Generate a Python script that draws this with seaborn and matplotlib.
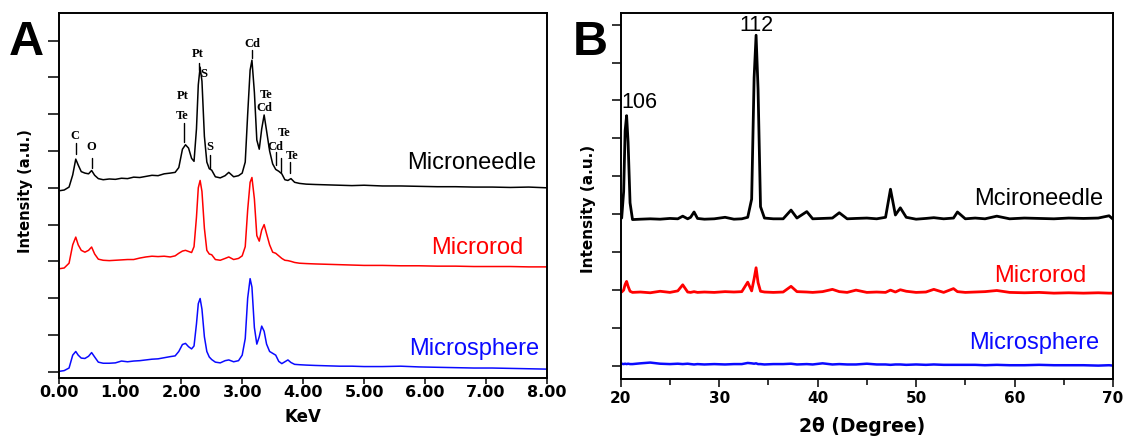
import matplotlib
matplotlib.use("Agg")
import matplotlib.pyplot as plt
from matplotlib.ticker import FormatStrFormatter, MultipleLocator
import pandas as pd
import seaborn as sns

# ---- panel A: EDS spectra (stacked, arbitrary units) ----
kev = [0.00, 0.08, 0.16, 0.22, 0.27, 0.31, 0.36, 0.42, 0.48, 0.53,
       0.58, 0.64, 0.72, 0.82, 0.92, 1.02, 1.12, 1.22, 1.32, 1.42,
       1.52, 1.62, 1.72, 1.82, 1.90, 1.96, 2.02, 2.07, 2.12, 2.17,
       2.21, 2.25, 2.28, 2.31, 2.34, 2.38, 2.42, 2.46, 2.50, 2.56,
       2.64, 2.72, 2.78, 2.86, 2.94, 3.00, 3.05, 3.09, 3.13, 3.16,
       3.20, 3.24, 3.28, 3.32, 3.36, 3.40, 3.45, 3.50, 3.55, 3.60,
       3.65, 3.70, 3.75, 3.80, 3.86, 3.94, 4.05, 4.20, 4.40, 4.60,
       4.80, 5.00, 5.30, 5.60, 5.90, 6.20, 6.50, 6.80, 7.10, 7.40,
       7.70, 8.00]

eds_microneedle = [4.92, 4.94, 5.02, 5.35, 5.78, 5.62, 5.44, 5.40, 5.38, 5.47,
                   5.34, 5.25, 5.22, 5.24, 5.23, 5.26, 5.25, 5.29, 5.28, 5.31,
                   5.34, 5.33, 5.38, 5.40, 5.42, 5.55, 6.05, 6.17, 6.08, 5.80,
                   5.72, 6.60, 7.80, 8.28, 7.90, 6.40, 5.70, 5.52, 5.48, 5.30,
                   5.27, 5.33, 5.42, 5.30, 5.33, 5.40, 5.70, 7.00, 8.20, 8.47,
                   7.60, 6.30, 6.05, 6.60, 6.98, 6.55, 6.00, 5.65, 5.50, 5.45,
                   5.38, 5.22, 5.20, 5.25, 5.15, 5.12, 5.10, 5.09, 5.08, 5.07,
                   5.06, 5.07, 5.05, 5.05, 5.04, 5.03, 5.03, 5.02, 5.02, 5.01,
                   5.02, 5.00]

eds_microrod = [2.80, 2.82, 2.95, 3.45, 3.66, 3.45, 3.30, 3.25, 3.30, 3.39,
                3.20, 3.06, 3.03, 3.02, 3.03, 3.04, 3.05, 3.05, 3.09, 3.12,
                3.14, 3.13, 3.14, 3.12, 3.15, 3.22, 3.28, 3.30, 3.27, 3.24,
                3.40, 4.20, 5.00, 5.20, 4.90, 3.90, 3.30, 3.20, 3.18, 3.05,
                3.03, 3.08, 3.12, 3.05, 3.08, 3.15, 3.40, 4.40, 5.15, 5.28,
                4.70, 3.70, 3.55, 3.85, 4.00, 3.75, 3.45, 3.25, 3.22, 3.15,
                3.08, 3.03, 3.02, 3.00, 2.97, 2.95, 2.94, 2.93, 2.92, 2.91,
                2.90, 2.89, 2.89, 2.88, 2.88, 2.87, 2.87, 2.86, 2.86, 2.86,
                2.85, 2.85]

eds_microsphere = [0.01, 0.03, 0.10, 0.45, 0.55, 0.45, 0.37, 0.36, 0.42, 0.52,
                   0.40, 0.26, 0.23, 0.23, 0.24, 0.29, 0.27, 0.29, 0.30, 0.32,
                   0.34, 0.35, 0.38, 0.41, 0.43, 0.55, 0.74, 0.77, 0.68, 0.62,
                   0.70, 1.30, 1.85, 1.99, 1.70, 0.95, 0.55, 0.40, 0.33, 0.26,
                   0.24, 0.30, 0.32, 0.27, 0.30, 0.45, 0.90, 2.00, 2.53, 2.30,
                   1.20, 0.75, 0.95, 1.24, 1.10, 0.75, 0.55, 0.50, 0.45, 0.28,
                   0.22, 0.27, 0.32, 0.25, 0.20, 0.19, 0.18, 0.17, 0.16, 0.15,
                   0.15, 0.14, 0.14, 0.15, 0.13, 0.12, 0.11, 0.10, 0.10, 0.09,
                   0.08, 0.07]

# ---- panel B: XRD patterns ----
two_theta = [20.1, 20.3, 20.45, 20.6, 20.75, 20.95, 21.2, 22.0, 23.0, 24.0,
             25.0, 25.8, 26.3, 26.8, 27.1, 27.45, 27.8, 28.5, 29.5, 30.6,
             31.5, 32.3, 32.9, 33.3, 33.55, 33.75, 33.95, 34.2, 34.6, 35.5,
             36.5, 37.3, 37.9, 38.9, 39.5, 40.5, 41.5, 42.2, 43.0, 43.9,
             45.0, 46.0, 46.9, 47.4, 47.9, 48.4, 49.0, 50.0, 51.0, 51.8,
             52.8, 53.8, 54.2, 55.0, 56.0, 57.0, 58.2, 59.5, 61.0, 62.5,
             64.0, 65.5, 67.0, 68.5, 69.6, 70.0]

xrd_microneedle = [3.90, 4.60, 6.20, 6.60, 5.90, 4.30, 3.86, 3.87, 3.88, 3.87,
                   3.89, 3.88, 3.95, 3.88, 3.92, 4.06, 3.89, 3.87, 3.88, 3.92,
                   3.87, 3.88, 3.92, 4.40, 7.60, 8.72, 7.30, 4.20, 3.90, 3.88,
                   3.88, 4.11, 3.90, 4.07, 3.88, 3.89, 3.90, 4.04, 3.88, 3.89,
                   3.90, 3.88, 3.92, 4.66, 3.98, 4.17, 3.92, 3.87, 3.89, 3.91,
                   3.88, 3.90, 4.06, 3.88, 3.90, 3.88, 3.95, 3.88, 3.90, 3.89,
                   3.88, 3.90, 3.89, 3.90, 3.96, 3.87]

xrd_microrod = [1.95, 2.00, 2.15, 2.23, 2.10, 1.97, 1.94, 1.95, 1.93, 1.97,
                1.94, 1.98, 2.14, 1.95, 1.94, 1.96, 1.94, 1.95, 1.94, 1.96,
                1.95, 1.96, 2.21, 1.98, 2.30, 2.59, 2.20, 1.97, 1.95, 1.94,
                1.95, 2.10, 1.96, 1.95, 1.94, 1.96, 2.02, 1.96, 1.94, 2.00,
                1.94, 1.95, 1.94, 2.00, 1.95, 2.01, 1.97, 1.94, 1.95, 2.02,
                1.94, 2.04, 1.96, 1.94, 1.95, 1.96, 1.99, 1.94, 1.93, 1.94,
                1.92, 1.93, 1.92, 1.93, 1.92, 1.92]

xrd_microsphere = [0.06, 0.05, 0.06, 0.05, 0.06, 0.05, 0.05, 0.07, 0.09, 0.06,
                   0.05, 0.06, 0.05, 0.06, 0.05, 0.04, 0.05, 0.04, 0.05, 0.04,
                   0.05, 0.05, 0.08, 0.07, 0.06, 0.07, 0.05, 0.05, 0.04, 0.05,
                   0.05, 0.06, 0.04, 0.05, 0.04, 0.07, 0.04, 0.05, 0.04, 0.04,
                   0.06, 0.04, 0.04, 0.03, 0.04, 0.04, 0.03, 0.04, 0.03, 0.04,
                   0.03, 0.03, 0.03, 0.03, 0.03, 0.02, 0.03, 0.02, 0.02, 0.03,
                   0.02, 0.02, 0.02, 0.01, 0.02, 0.01]

samples = ["Microneedle", "Microrod", "Microsphere"]
colors = ["black", "#ff0000", "#0a0aff"]

# element markers on the microneedle EDS trace
peak_labels = [("C", 0.25, 6.41), ("O", 0.53, 6.10), ("Te", 2.02, 6.95),
               ("Pt", 2.03, 7.50), ("Pt", 2.27, 8.63), ("S", 2.37, 8.09),
               ("S", 2.47, 6.10), ("Cd", 3.16, 8.92), ("Te", 3.39, 7.52),
               ("Cd", 3.37, 7.18), ("Te", 3.68, 6.50), ("Cd", 3.55, 6.11),
               ("Te", 3.82, 5.86)]
peak_ticks = [(0.27, 5.93, 6.21), (0.53, 5.53, 5.80), (2.04, 6.25, 6.75),
              (2.29, 8.20, 8.40), (2.47, 5.53, 5.89), (3.16, 8.54, 8.76),
              (3.55, 5.62, 5.98), (3.63, 5.43, 5.80), (3.79, 5.39, 5.71)]

df_a = pd.DataFrame({"keV": kev * 3,
                     "I": eds_microneedle + eds_microrod + eds_microsphere,
                     "sample": [s for s in samples for _ in kev]})
df_b = pd.DataFrame({"2theta": two_theta * 3,
                     "I": xrd_microneedle + xrd_microrod + xrd_microsphere,
                     "sample": [s for s in samples for _ in two_theta]})

sns.set_style("ticks")
plt.rcParams['font.family'] = ['Liberation Sans', 'DejaVu Sans']
plt.rcParams['axes.linewidth'] = 1.4
for k in ['text.color', 'axes.labelcolor', 'axes.edgecolor', 'xtick.color', 'ytick.color']:
    plt.rcParams[k] = 'black'

W, H = 1126, 436
fig = plt.figure(figsize=(W / 100, H / 100), dpi=100)
ax_a = fig.add_axes([59.3 / W, 58.3 / H, 487.7 / W, 364.7 / H])
ax_b = fig.add_axes([620.7 / W, 57.5 / H, 492.3 / W, 365.5 / H])

# panel A
for s, c in zip(samples, colors):
    sns.lineplot(data=df_a[df_a["sample"] == s], x="keV", y="I", ax=ax_a,
                 color=c, lw=1.1, errorbar=None, legend=False)
ax_a.set_xlim(0, 8)
ax_a.set_ylim(-0.163, 9.753)
ax_a.xaxis.set_major_locator(MultipleLocator(1))
ax_a.xaxis.set_major_formatter(FormatStrFormatter('%.2f'))
ax_a.set_yticks(range(10))
ax_a.set_yticklabels([])
ax_a.tick_params(axis='x', direction='out', length=4, width=1.1, pad=1.5)
ax_a.tick_params(axis='y', direction='out', length=8, width=1.1)
for lab in ax_a.get_xticklabels():
    lab.set_family('DejaVu Sans')
    lab.set_fontweight('bold')
    lab.set_fontsize(11.5)
ax_a.set_xlabel("KeV", family='DejaVu Sans', fontweight='bold', fontsize=12)
ax_a.xaxis.set_label_coords(0.5, -0.082)
ax_a.set_ylabel("Intensity (a.u.)", family='DejaVu Sans', fontweight='bold', fontsize=10.5)
ax_a.yaxis.set_label_coords(-0.054, 0.511)

for t, x, y in peak_labels:
    ax_a.text(x, y, t, ha='center', va='center', fontsize=9,
              family='Liberation Serif', fontweight='bold')
for x, y0, y1 in peak_ticks:
    ax_a.plot([x, x], [y0, y1], color='black', lw=1.0)

ax_a.text(7.83, 5.68, "Microneedle", ha='right', va='center', fontsize=17, color=colors[0])
ax_a.text(7.62, 3.35, "Microrod", ha='right', va='center', fontsize=17, color=colors[1])
ax_a.text(7.87, 0.61, "Microsphere", ha='right', va='center', fontsize=17, color=colors[2])

# panel B
for s, c, lw in zip(samples, colors, [2.0, 2.0, 1.8]):
    sns.lineplot(data=df_b[df_b["sample"] == s], x="2theta", y="I", ax=ax_b,
                 color=c, lw=lw, errorbar=None, legend=False)
ax_b.set_xlim(20, 70)
ax_b.set_ylim(-0.33, 9.306)
ax_b.xaxis.set_major_locator(MultipleLocator(10))
ax_b.xaxis.set_minor_locator(MultipleLocator(5))
ax_b.set_yticks(range(10))
ax_b.set_yticklabels([])
ax_b.tick_params(axis='x', which='major', direction='out', length=5.8, width=1.1, pad=3)
ax_b.tick_params(axis='x', which='minor', direction='out', length=4, width=1.1)
ax_b.tick_params(axis='y', direction='out', length=6.5, width=1.1)
for lab in ax_b.get_xticklabels():
    lab.set_family('DejaVu Sans')
    lab.set_fontweight('bold')
    lab.set_fontsize(11)
ax_b.set_xlabel("2θ (Degree)", family='DejaVu Sans', fontweight='bold', fontsize=13.5)
ax_b.xaxis.set_label_coords(0.49, -0.104)
ax_b.set_ylabel("Intensity (a.u.)", family='DejaVu Sans', fontweight='bold', fontsize=11)
ax_b.yaxis.set_label_coords(-0.050, 0.463)

ax_b.text(20.1, 6.94, "106", ha='left', va='center', fontsize=15.5)
ax_b.text(33.8, 8.98, "112", ha='center', va='center', fontsize=15.5)
ax_b.text(69.0, 4.40, "Mcironeedle", ha='right', va='center', fontsize=17, color=colors[0])
ax_b.text(67.3, 2.37, "Microrod", ha='right', va='center', fontsize=17, color=colors[1])
ax_b.text(68.6, 0.60, "Microsphere", ha='right', va='center', fontsize=17, color=colors[2])

# panel letters
fig.text(9 / W, 1 - 55 / H, "A", fontsize=35, fontweight='bold', va='baseline')
fig.text(573 / W, 1 - 55 / H, "B", fontsize=35, fontweight='bold', va='baseline')

fig.savefig("out.png", dpi=100)
